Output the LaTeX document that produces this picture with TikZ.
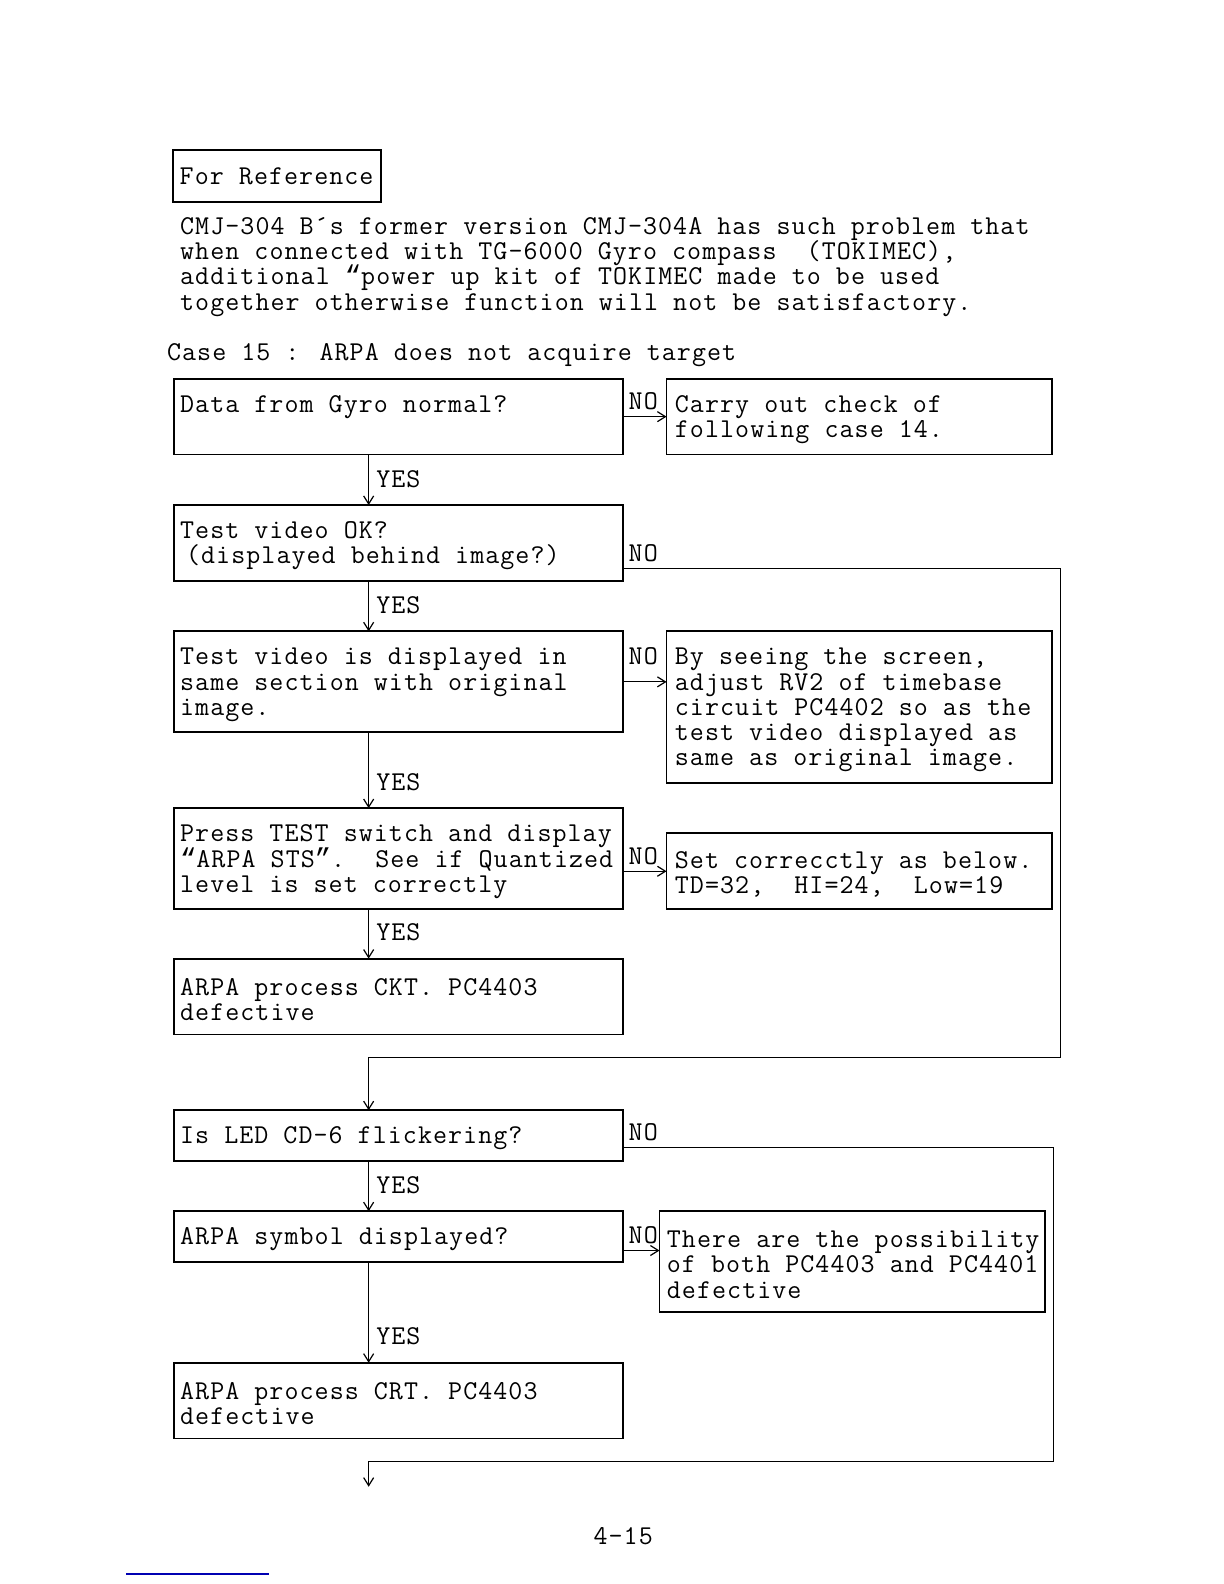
\documentclass[tikz,border=0pt]{standalone}
\usepackage{fontspec}
\usetikzlibrary{positioning,arrows.meta}
\newfontfamily\tyfam{lmmono12-regular}[Extension=.otf,LetterSpace=3.9]
\newfontfamily\qfam{Liberation Mono}
\newcommand{\tyfont}{\fontsize{13.6}{12.6}\selectfont\tyfam}
\newcommand{\qopen}{{\qfam “}}
\newcommand{\qclose}{{\qfam ”}}
\setlength{\lineskiplimit}{-100pt}
\begin{document}
\begin{tikzpicture}[x=0.505pt,y=-0.505pt,>={Straight Barb[length=4pt,width=5pt]},
    box/.style={draw,line width=0.9pt,inner sep=0pt,outer sep=0pt,minimum width=224.7pt},
    sidebox/.style={box,minimum width=192.9pt},
    txt/.style={anchor=west,align=left,inner sep=0pt,xshift=3pt,yshift=-1.5pt,font=\tyfont},
    nolbl/.style={anchor=south west,inner sep=0pt,xshift=2.5pt,yshift=3pt,font=\tyfont},
    yeslbl/.style={anchor=base west,inner sep=0pt,xshift=3.5pt,yshift=9pt,font=\tyfont},
    link/.style={line width=0.6pt}]

    \useasboundingbox (0pt,0pt) rectangle (612pt,-792pt);

    % heading
    \node[draw,line width=0.9pt,anchor=north west,minimum width=104pt,minimum height=25.75pt,inner sep=0pt,font=\tyfont] (ref) at (170,148) {For Reference};
    \node[anchor=north west,align=left,inner sep=0pt,font=\tyfont] (note) at (178,215) {CMJ-304 B´s former version CMJ-304A has such problem that\\
        when connected with TG-6000 Gyro compass\ \ (TOKIMEC),\\
        additional \qopen power up kit of TOKIMEC made to be used\\
        together otherwise function will not be satisfactory.};
    \node[anchor=west,inner sep=0pt,font=\tyfont] (case) at (165,352) {Case 15 : ARPA does not acquire target};

    % left column
    \node[box,anchor=north west,minimum height=37.9pt,label={[txt,yshift=6.3pt]west:{Data from Gyro normal?}}] (1) at (172,375) {};
    \node[box,minimum height=37.9pt,below=25.25pt of 1,label={[txt]west:{Test video OK?\\\hspace*{3pt}(displayed behind image?)}}] (2) {};
    \node[box,minimum height=50.5pt,below=25.25pt of 2,label={[txt]west:{Test video is displayed in\\same section with original\\image.}}] (3) {};
    \node[box,minimum height=50.5pt,below=37.9pt of 3,label={[txt]west:{Press TEST switch and display\\\qopen ARPA STS\qclose.\ \ See if Quantized\\level is set correctly}}] (4) {};
    \node[box,minimum height=37.9pt,below=24.75pt of 4,label={[txt]west:{ARPA process CKT. PC4403\\defective}}] (5) {};
    \node[box,minimum height=25.25pt,below=37.9pt of 5,label={[txt]west:{Is LED CD-6 flickering?}}] (6) {};
    \node[box,minimum height=25.25pt,below=25.25pt of 6,label={[txt]west:{ARPA symbol displayed?}}] (7) {};
    \node[box,minimum height=37.9pt,below=50.5pt of 7,label={[txt]west:{ARPA process CRT. PC4403\\defective}}] (8) {};

    % right column
    \node[sidebox,minimum height=37.9pt,right=21.7pt of 1,label={[txt,xshift=1pt]west:{Carry out check of\\following case 14.}}] (1n) {};
    \node[sidebox,minimum height=75.75pt,right=21.7pt of 3.north east,anchor=north west,label={[txt,xshift=1pt]west:{By seeing the screen,\\adjust RV2 of timebase\\circuit PC4402 so as the\\test video displayed as\\same as original image.}}] (3n) {};
    \node[sidebox,minimum height=37.9pt,right=21.7pt of 4.south east,anchor=south west,label={[txt,xshift=1pt]west:{Set correcctly as below.\\TD=32,\ \ HI=24,\ \ Low=19}}] (4n) {};
    \node[sidebox,minimum height=50.5pt,right=18.2pt of 7.north east,anchor=north west,label={[txt,xshift=0.5pt]west:{There are the possibility\\of both PC4403 and PC4401\\defective}}] (7n) {};

    \coordinate (spine) at (365,0);
    \coordinate (back1) at (1050,1047);
    \coordinate (back2) at (1043,1447);
    \coordinate (out) at (365,1472);

    % YES branches
    \draw[link,->] (1.south -| spine) -- (2.north -| spine) node[yeslbl] {YES};
    \draw[link,->] (2.south -| spine) -- (3.north -| spine) node[yeslbl] {YES};
    \draw[link,->] (3.south -| spine) -- (4.north -| spine) node[yeslbl] {YES};
    \draw[link,->] (4.south -| spine) -- (5.north -| spine) node[yeslbl] {YES};
    \draw[link,->] (6.south -| spine) -- (7.north -| spine) node[yeslbl] {YES};
    \draw[link,->] (7.south -| spine) -- (8.north -| spine) node[yeslbl] {YES};

    % NO branches
    \draw[link,->] (1.east) node[nolbl] {NO} -- (1n.west);
    \draw[link,->] (3.east) node[nolbl,yshift=5pt] {NO} -- (3.east -| 3n.west);
    \draw[link,->] (4.east |- 4n.west) node[nolbl] {NO} -- (4n.west);
    \draw[link,->] ([yshift=-7pt]7.east) node[nolbl] {NO} -- ([yshift=-7pt]7.east -| 7n.west);
    \draw[link,->] ([yshift=6pt]2.south east) node[nolbl] {NO} -| (back1) -| (6.north -| spine);
    \draw[link,->] ([yshift=6.5pt]6.south east) node[nolbl] {NO} -| (back2) -| (out);

    \node[font=\tyfont] (page) at (617,1521) {4-15};
    \draw[blue!70!black,line width=0.9pt] (125,1558) -- (266,1558);
\end{tikzpicture}
\end{document}
